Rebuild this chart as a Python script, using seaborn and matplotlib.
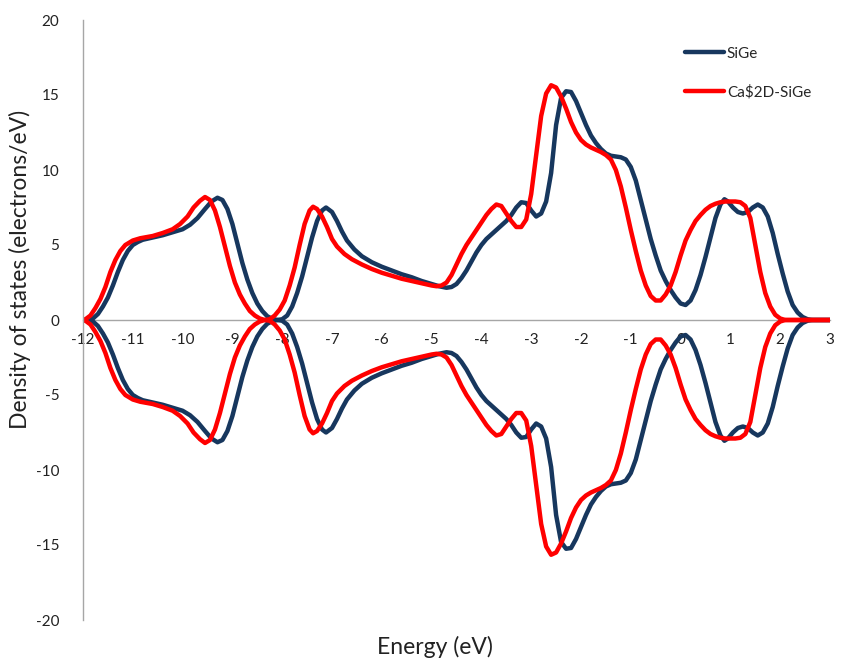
import matplotlib
matplotlib.use("Agg")
import matplotlib.pyplot as plt
import seaborn as sns
import pandas as pd

# ---- data (spin-up half; spin-down is its mirror) ----
sige_energy = [-12.0, -11.9, -11.8, -11.7, -11.6, -11.5, -11.4, -11.3, -11.2, -11.1, -11.0,
               -10.9, -10.8, -10.6, -10.4, -10.2, -10.0, -9.85, -9.7, -9.55, -9.42, -9.3,
               -9.2, -9.1, -9.0, -8.9, -8.8, -8.7, -8.6, -8.5, -8.4, -8.3, -8.2, -8.1,
               -8.0, -7.9, -7.8, -7.7, -7.6, -7.5, -7.4, -7.3, -7.2, -7.12, -7.0, -6.9,
               -6.8, -6.7, -6.55, -6.4, -6.2, -6.0, -5.8, -5.6, -5.4, -5.2, -5.0, -4.85,
               -4.7, -4.6, -4.5, -4.4, -4.3, -4.2, -4.1, -4.0, -3.9, -3.8, -3.7, -3.6,
               -3.5, -3.4, -3.3, -3.2, -3.1, -3.0, -2.9, -2.8, -2.7, -2.6, -2.5, -2.4,
               -2.3, -2.2, -2.1, -2.0, -1.9, -1.8, -1.7, -1.6, -1.5, -1.4, -1.3, -1.2,
               -1.1, -1.0, -0.9, -0.8, -0.7, -0.6, -0.5, -0.4, -0.3, -0.2, -0.1, 0.0,
               0.1, 0.2, 0.3, 0.4, 0.5, 0.6, 0.7, 0.8, 0.88, 0.95, 1.05, 1.15, 1.25,
               1.35, 1.45, 1.55, 1.65, 1.75, 1.85, 1.95, 2.05, 2.15, 2.25, 2.35, 2.45,
               2.55, 2.65, 3.0]
sige_dos = [0.0, 0.0, 0.1, 0.4, 0.9, 1.5, 2.3, 3.2, 4.0, 4.6, 5.0,
            5.2, 5.35, 5.5, 5.65, 5.85, 6.05, 6.35, 6.8, 7.4, 7.9, 8.15,
            8.0, 7.4, 6.4, 5.1, 3.8, 2.7, 1.8, 1.1, 0.6, 0.25, 0.08, 0.0,
            0.05, 0.3, 0.9, 1.8, 2.9, 4.2, 5.5, 6.6, 7.3, 7.5, 7.2, 6.6,
            5.9, 5.3, 4.7, 4.25, 3.85, 3.55, 3.3, 3.05, 2.85, 2.6, 2.4, 2.25,
            2.15, 2.2, 2.4, 2.8, 3.3, 3.9, 4.5, 5.0, 5.4, 5.7, 6.0, 6.3,
            6.6, 7.0, 7.5, 7.85, 7.8, 7.3, 6.9, 7.1, 7.9, 9.8, 13.0, 14.8,
            15.25, 15.2, 14.6, 13.8, 13.0, 12.3, 11.8, 11.4, 11.1, 10.95, 10.9, 10.85,
            10.7, 10.2, 9.3, 8.0, 6.7, 5.4, 4.3, 3.3, 2.6, 2.0, 1.5, 1.1,
            1.0, 1.3, 2.0, 3.0, 4.2, 5.5, 6.8, 7.7, 8.05, 7.9, 7.5, 7.2, 7.1,
            7.2, 7.5, 7.7, 7.5, 6.9, 5.8, 4.4, 3.1, 1.9, 1.0, 0.5, 0.2,
            0.05, 0.0, 0.0]

ca_energy = [-12.0, -11.95, -11.85, -11.75, -11.65, -11.55, -11.45, -11.35, -11.25, -11.15,
             -11.0, -10.85, -10.6, -10.4, -10.2, -10.05, -9.9, -9.78, -9.65, -9.55, -9.45,
             -9.35, -9.25, -9.15, -9.05, -8.95, -8.85, -8.75, -8.65, -8.55, -8.45, -8.35,
             -8.25, -8.15, -8.05, -7.95, -7.85, -7.75, -7.65, -7.55, -7.45, -7.38, -7.3,
             -7.2, -7.1, -7.0, -6.9, -6.75, -6.6, -6.4, -6.2, -6.0, -5.8, -5.6, -5.4,
             -5.2, -5.0, -4.9, -4.8, -4.7, -4.6, -4.5, -4.4, -4.3, -4.2, -4.1, -4.0,
             -3.9, -3.8, -3.7, -3.6, -3.5, -3.4, -3.3, -3.2, -3.1, -3.0, -2.9, -2.8,
             -2.7, -2.6, -2.5, -2.4, -2.3, -2.2, -2.1, -2.0, -1.9, -1.8, -1.7, -1.6,
             -1.5, -1.4, -1.3, -1.2, -1.1, -1.0, -0.9, -0.8, -0.7, -0.6, -0.5, -0.4,
             -0.3, -0.2, -0.1, 0.0, 0.1, 0.2, 0.3, 0.4, 0.5, 0.6, 0.7, 0.8, 0.9, 1.0,
             1.1, 1.2, 1.3, 1.4, 1.5, 1.6, 1.7, 1.8, 1.9, 2.0, 2.1, 3.0]
ca_dos = [0.0, 0.05, 0.3, 0.8, 1.4, 2.2, 3.2, 4.0, 4.6, 5.0,
          5.3, 5.45, 5.6, 5.8, 6.05, 6.4, 6.9, 7.5, 7.95, 8.2, 8.0,
          7.3, 6.2, 4.9, 3.6, 2.5, 1.7, 1.1, 0.6, 0.3, 0.1, 0.0,
          0.05, 0.3, 0.7, 1.3, 2.3, 3.5, 5.0, 6.4, 7.3, 7.55, 7.4,
          6.9, 6.2, 5.4, 4.9, 4.4, 4.05, 3.7, 3.4, 3.15, 2.95, 2.75, 2.6,
          2.45, 2.3, 2.25, 2.3, 2.5, 3.0, 3.7, 4.4, 5.0, 5.5, 6.0, 6.5,
          7.0, 7.4, 7.7, 7.6, 7.1, 6.6, 6.2, 6.2, 6.7, 8.4, 11.0, 13.6,
          15.1, 15.65, 15.5, 14.9, 14.1, 13.2, 12.5, 12.0, 11.7, 11.5, 11.35, 11.2,
          11.0, 10.7, 10.0, 8.9, 7.5, 6.0, 4.6, 3.3, 2.3, 1.6, 1.3, 1.3,
          1.7, 2.3, 3.2, 4.3, 5.3, 6.0, 6.6, 7.0, 7.35, 7.6, 7.75, 7.85, 7.9, 7.9,
          7.9, 7.85, 7.6, 6.8, 5.0, 3.2, 1.8, 0.9, 0.35, 0.1, 0.0, 0.0]

series_names = ["SiGe", "Ca$2D-SiGe"]
x_ticks = list(range(-12, 4))
y_ticks = list(range(-20, 25, 5))

rows = []
for name, e, d in [(series_names[0], sige_energy, sige_dos), (series_names[1], ca_energy, ca_dos)]:
    for spin, sign in [("up", 1), ("down", -1)]:
        for xi, yi in zip(e, d):
            rows.append({"Energy": xi, "DOS": sign * yi, "System": name, "Spin": spin})
df = pd.DataFrame(rows)

sns.set_style("white")
plt.rcParams['font.family'] = ['Lato', 'DejaVu Sans']
plt.rcParams['text.parse_math'] = False
plt.rcParams['axes.unicode_minus'] = False

fig = plt.figure(figsize=(8.41, 6.59), dpi=100)
ax = fig.add_axes([83/841, 1-620/659, 747/841, 600/659])

palette = {series_names[0]: "#17375E", series_names[1]: "#FF0000"}
sns.lineplot(data=df, x="Energy", y="DOS", hue="System", units="Spin", estimator=None,
             sort=False, palette=palette, linewidth=3.2, ax=ax, legend=True)
for line in ax.get_lines():
    line.set_solid_joinstyle('round')
    line.set_solid_capstyle('round')

ax.set_xlim(-12, 3)
ax.set_ylim(-20, 20)
ax.set_xticks(x_ticks)
ax.set_yticks(y_ticks)
ax.spines['top'].set_visible(False)
ax.spines['right'].set_visible(False)
ax.spines['bottom'].set_position(('data', 0))
for s in ['left', 'bottom']:
    ax.spines[s].set_color('#a6a6a6')
    ax.spines[s].set_linewidth(1.0)
ax.spines['bottom'].set_zorder(0)
ax.tick_params(axis='both', length=0, labelsize=11, colors='#222222')
ax.tick_params(axis='x', pad=9)
ax.tick_params(axis='y', pad=17)

ax.set_xlabel("Energy (eV)", fontsize=16.5, color='#222222')
ax.set_ylabel("Density of states (electrons/eV)", fontsize=16.5, color='#222222')
ax.xaxis.set_label_coords(0.471, -0.026)
ax.yaxis.set_label_coords(-0.07, 0.585)

handles, labels = ax.get_legend_handles_labels()
leg = ax.legend(handles, labels, loc='upper left', bbox_to_anchor=(671/841, 1-33/659),
                bbox_transform=fig.transFigure, frameon=False, fontsize=11,
                handlelength=2.6, handletextpad=0.15, labelspacing=1.6)
for line in leg.get_lines():
    line.set_linewidth(3.2)

fig.savefig("out.png", dpi=100)
